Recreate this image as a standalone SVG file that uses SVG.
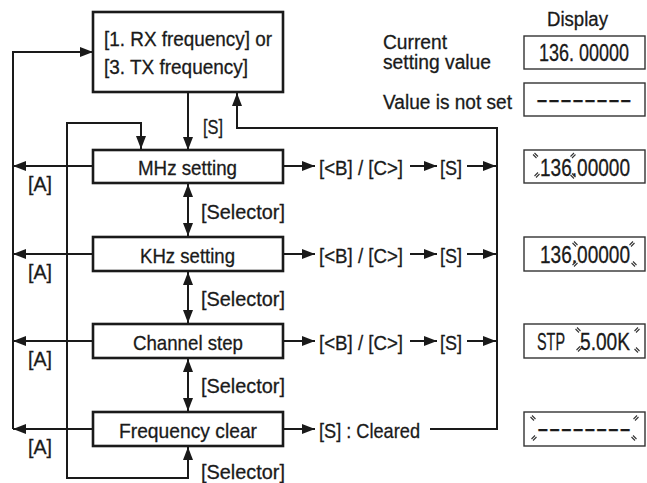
<svg xmlns="http://www.w3.org/2000/svg" width="647" height="483" viewBox="0 0 647 483">
<defs>
<marker id="ah" markerUnits="userSpaceOnUse" markerWidth="13" markerHeight="10" refX="13" refY="5" orient="auto-start-reverse"><path d="M0,0 L13,5 L0,10 z" fill="#1a1a1a"/></marker>
<path id="mb" d="M-2.5,-1 L1,2.5 M-1,-2.5 L2.5,1"/>
<path id="mf" d="M2.5,-1 L-1,2.5 M1,-2.5 L-2.5,1"/>
</defs>
<style>
.t{font-family:"Liberation Sans Narrow","Liberation Sans",Arial,sans-serif;font-size:21px;fill:#1a1a1a;stroke:#1a1a1a;stroke-width:0.3}
.s18{font-size:20px}
.d{font-family:"Liberation Sans",Arial,sans-serif;font-size:24px;fill:#1a1a1a;stroke:#1a1a1a;stroke-width:0.3}
.box{fill:#fff;stroke:#1a1a1a;stroke-width:2.6}
.disp{fill:#fff;stroke:#333;stroke-width:1.4}
.c{fill:none;stroke:#1a1a1a;stroke-width:2}
.a{marker-end:url(#ah)}
.bd{marker-start:url(#ah);marker-end:url(#ah)}
.bl{fill:none;stroke:#333;stroke-width:1.1}
</style>
<rect width="647" height="483" fill="#fff"/>

<g id="connectors">
  <path class="c a" d="M13,429 V52 H93"/>
  <path class="c a" d="M93,166 H13"/>
  <path class="c a" d="M93,254 H13"/>
  <path class="c a" d="M93,341 H13"/>
  <path class="c a" d="M93,429 H13"/>
  <path class="c a" d="M188,92 V150"/>
  <path class="c bd" d="M188,447 V478 H67 V123 H141 V149"/>
  <path class="c bd" d="M188,184 V236"/>
  <path class="c bd" d="M188,272 V323"/>
  <path class="c bd" d="M188,359 V411"/>
  <path class="c a" d="M283,166 H315"/>
  <path class="c a" d="M410,166 H437"/>
  <path class="c a" d="M467,166 H496"/>
  <path class="c a" d="M283,254 H315"/>
  <path class="c a" d="M410,254 H437"/>
  <path class="c a" d="M467,254 H496"/>
  <path class="c a" d="M283,341 H315"/>
  <path class="c a" d="M410,341 H437"/>
  <path class="c a" d="M467,341 H496"/>
  <path class="c a" d="M283,429 H315"/>
  <path class="c a" d="M430,429 H497 V128 H237 V93"/>
  <text class="t" x="203" y="134" textLength="20" lengthAdjust="spacingAndGlyphs">[S]</text>
  <text class="t" x="28" y="191" textLength="24" lengthAdjust="spacingAndGlyphs">[A]</text>
  <text class="t" x="28" y="279" textLength="24" lengthAdjust="spacingAndGlyphs">[A]</text>
  <text class="t" x="28" y="366" textLength="24" lengthAdjust="spacingAndGlyphs">[A]</text>
  <text class="t" x="28" y="454" textLength="24" lengthAdjust="spacingAndGlyphs">[A]</text>
  <text class="t" x="201" y="219" textLength="84" lengthAdjust="spacingAndGlyphs">[Selector]</text>
  <text class="t" x="201" y="306" textLength="84" lengthAdjust="spacingAndGlyphs">[Selector]</text>
  <text class="t" x="201" y="393" textLength="84" lengthAdjust="spacingAndGlyphs">[Selector]</text>
  <text class="t" x="201" y="479" textLength="84" lengthAdjust="spacingAndGlyphs">[Selector]</text>
  <text class="t" x="319" y="175" textLength="84" lengthAdjust="spacingAndGlyphs">[&lt;B] / [C&gt;]</text>
  <text class="t" x="440" y="175" textLength="22" lengthAdjust="spacingAndGlyphs">[S]</text>
  <text class="t" x="319" y="263" textLength="84" lengthAdjust="spacingAndGlyphs">[&lt;B] / [C&gt;]</text>
  <text class="t" x="440" y="263" textLength="22" lengthAdjust="spacingAndGlyphs">[S]</text>
  <text class="t" x="319" y="350" textLength="84" lengthAdjust="spacingAndGlyphs">[&lt;B] / [C&gt;]</text>
  <text class="t" x="440" y="350" textLength="22" lengthAdjust="spacingAndGlyphs">[S]</text>
  <text class="t" x="319" y="438" textLength="101" lengthAdjust="spacingAndGlyphs">[S] : Cleared</text>
</g>

<g id="node-freq">
  <rect class="box" x="93" y="12" width="190" height="80"/>
  <text class="t s18" x="104" y="46" textLength="168" lengthAdjust="spacingAndGlyphs">[1. RX frequency] or</text>
  <text class="t s18" x="104" y="74" textLength="144" lengthAdjust="spacingAndGlyphs">[3. TX frequency]</text>
</g>
<g id="node-mhz">
  <rect class="box" x="93" y="150" width="190" height="33"/>
  <text class="t" x="138" y="175" textLength="99" lengthAdjust="spacingAndGlyphs">MHz setting</text>
</g>
<g id="node-khz">
  <rect class="box" x="93" y="237" width="190" height="34"/>
  <text class="t" x="140" y="263" textLength="95" lengthAdjust="spacingAndGlyphs">KHz setting</text>
</g>
<g id="node-step">
  <rect class="box" x="93" y="324" width="190" height="34"/>
  <text class="t" x="133" y="350" textLength="110" lengthAdjust="spacingAndGlyphs">Channel step</text>
</g>
<g id="node-clear">
  <rect class="box" x="93" y="412" width="190" height="34"/>
  <text class="t" x="119" y="438" textLength="138" lengthAdjust="spacingAndGlyphs">Frequency clear</text>
</g>

<g id="legend">
  <text class="t s18" x="547" y="26" textLength="61" lengthAdjust="spacingAndGlyphs">Display</text>
  <text class="t s18" x="383" y="49" textLength="64" lengthAdjust="spacingAndGlyphs">Current</text>
  <text class="t s18" x="383" y="69" textLength="108" lengthAdjust="spacingAndGlyphs">setting value</text>
  <text class="t s18" x="383" y="109" textLength="129" lengthAdjust="spacingAndGlyphs">Value is not set</text>
</g>
<g id="display-current">
  <rect class="disp" x="524" y="36" width="121" height="33"/>
  <text class="d" transform="translate(539,61) scale(0.75,1)">136. 00000</text>
</g>
<g id="display-notset">
  <rect class="disp" x="524" y="83" width="121" height="33"/>
  <text class="d" transform="translate(536,107) scale(1.5,1)">--------</text>
</g>
<g id="display-mhz">
  <rect class="disp" x="524" y="150" width="121" height="33"/>
  <text class="d" transform="translate(540,175.5) scale(0.794,1)">136.00000</text>
  <use href="#mb" class="bl" x="535.5" y="155.5"/>
  <use href="#mf" class="bl" x="537" y="175"/>
  <use href="#mf" class="bl" x="573" y="155.5"/>
  <use href="#mb" class="bl" x="573" y="176"/>
</g>
<g id="display-khz">
  <rect class="disp" x="524" y="237" width="121" height="34"/>
  <text class="d" transform="translate(540,262.5) scale(0.794,1)">136.00000</text>
  <use href="#mb" class="bl" x="575" y="244"/>
  <use href="#mf" class="bl" x="575" y="264"/>
  <use href="#mf" class="bl" x="632" y="244"/>
  <use href="#mb" class="bl" x="634" y="264"/>
</g>
<g id="display-step">
  <rect class="disp" x="524" y="324" width="121" height="34"/>
  <text class="d" transform="translate(537,349.5) scale(0.6,1)">STP</text>
  <text class="d" transform="translate(580,349.5) scale(0.797,1)">5.00K</text>
  <use href="#mb" class="bl" x="578" y="330"/>
  <use href="#mf" class="bl" x="579" y="349"/>
  <use href="#mf" class="bl" x="637" y="330"/>
  <use href="#mb" class="bl" x="637" y="350"/>
</g>
<g id="display-clear">
  <rect class="disp" x="524" y="412" width="121" height="34"/>
  <text class="d" transform="translate(537,436) scale(1.47,1)">--------</text>
  <use href="#mb" class="bl" x="533" y="418"/>
  <use href="#mf" class="bl" x="636" y="418"/>
  <use href="#mf" class="bl" x="534" y="438"/>
  <use href="#mb" class="bl" x="634" y="438"/>
</g>
</svg>
